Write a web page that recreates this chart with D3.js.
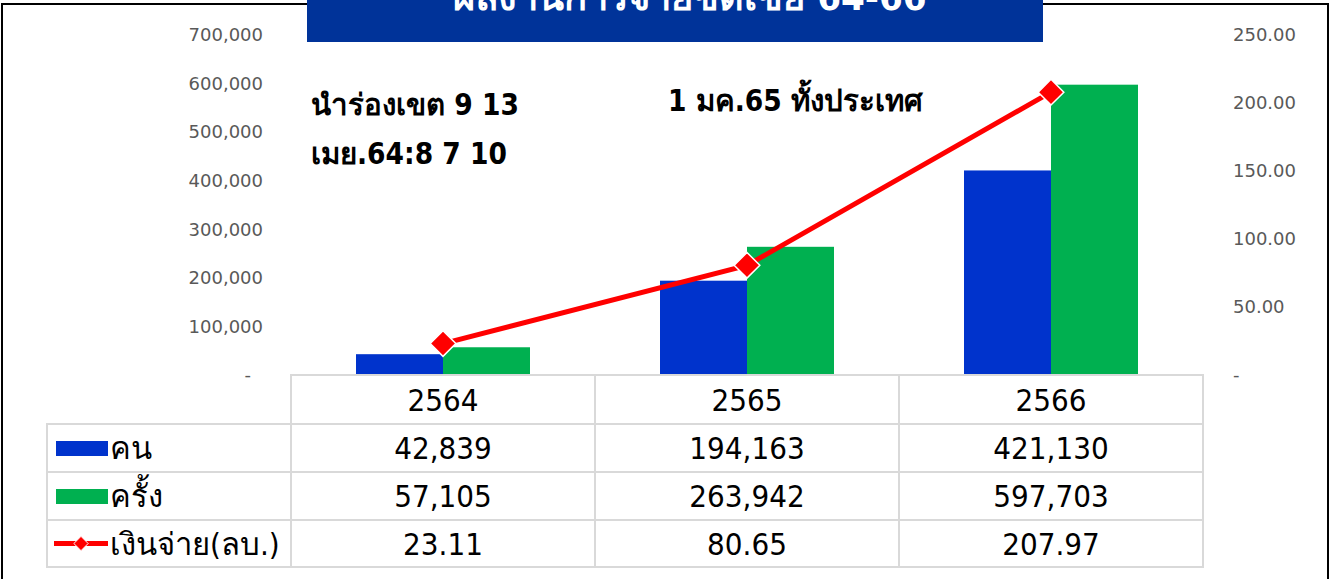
<!DOCTYPE html>
<html>
<head>
<meta charset="utf-8">
<script src="https://cdn.jsdelivr.net/npm/d3@7"></script>
<style>
  body { margin: 0; background: #fff; }
  svg { display: block; }
</style>
</head>
<body>
<svg id="chart" width="1333" height="579"></svg>
<script>
// data
const years = ["2564", "2565", "2566"];
const persons = [42839, 194163, 421130];      // คน
const visits = [57105, 263942, 597703];       // ครั้ง
const payout = [23.11, 80.65, 207.97];        // เงินจ่าย(ลบ.)
const leftTicks = [0, 100000, 200000, 300000, 400000, 500000, 600000, 700000];
const rightTicks = [0, 50, 100, 150, 200, 250];
const rowNames = ["คน", "ครั้ง", "เงินจ่าย(ลบ.)"];

const BLUE = "#0033cc", GREEN = "#00b050", RED = "#ff0000";
const tableFont = "'Liberation Sans Narrow', 'DejaVu Sans Condensed', 'Noto Sans', sans-serif";
const axisFont = "'DejaVu Sans', Tahoma, sans-serif";

const svg = d3.select("#chart");

// frame
svg.append("rect").attr("x", 2).attr("y", 4).attr("width", 1326).attr("height", 600)
  .attr("fill", "none").attr("stroke", "#000").attr("stroke-width", 2);

const x = d3.scaleBand().domain(years).range([291, 1203]).padding(0);
const yL = d3.scaleLinear().domain([0, 700000]).range([375, 35]);
const yR = d3.scaleLinear().domain([0, 250]).range([375, 35]);
const barW = 87;

// axes (no lines, labels only)
const fmtL = d => d === 0 ? "-" : d3.format(",")(d);
const fmtR = d => d === 0 ? "-" : d3.format(".2f")(d);

const axL = svg.append("g").attr("transform", "translate(269,0)")
  .call(d3.axisLeft(yL).tickValues(leftTicks).tickFormat(fmtL).tickSize(0).tickPadding(6));
const axR = svg.append("g").attr("transform", "translate(1227,0)")
  .call(d3.axisRight(yR).tickValues(rightTicks).tickFormat(fmtR).tickSize(0).tickPadding(6));
[axL, axR].forEach(a => {
  a.select(".domain").remove();
  a.selectAll("text").attr("fill", "#595959").style("font-family", axisFont).style("font-size", "18px");
});
axL.selectAll(".tick text").filter(d => d === 0).attr("dx", -12);

// bars
const g = svg.append("g");
g.selectAll("rect.p").data(years).enter().append("rect")
  .attr("x", d => x(d) + x.bandwidth() / 2 - barW)
  .attr("y", (d, i) => yL(persons[i]))
  .attr("width", barW)
  .attr("height", (d, i) => yL(0) - yL(persons[i]))
  .attr("fill", BLUE);
g.selectAll("rect.v").data(years).enter().append("rect")
  .attr("x", d => x(d) + x.bandwidth() / 2)
  .attr("y", (d, i) => yL(visits[i]))
  .attr("width", barW)
  .attr("height", (d, i) => yL(0) - yL(visits[i]))
  .attr("fill", GREEN);

// line
const pts = years.map((d, i) => [x(d) + x.bandwidth() / 2, yR(payout[i])]);
g.append("path").attr("d", d3.line()(pts))
  .attr("fill", "none").attr("stroke", RED).attr("stroke-width", 5);
g.selectAll("path.mk").data(pts).enter().append("path")
  .attr("d", d3.symbol(d3.symbolDiamond2, 420))
  .attr("transform", d => `translate(${d[0]},${d[1]})`)
  .attr("fill", RED).attr("stroke", "#fff").attr("stroke-width", 1.5);

// annotations
const note = svg.append("g").style("font-family", tableFont).style("font-weight", "bold")
  .style("font-size", "29.5px").attr("fill", "#000");
note.append("text").attr("x", 311).attr("y", 115).text("นำร่องเขต 9 13");
note.append("text").attr("x", 311).attr("y", 164).text("เมย.64:8 7 10");
note.append("text").attr("x", 668).attr("y", 111).text("1 มค.65 ทั้งประเทศ");

// title banner (clipped at the top edge)
svg.append("rect").attr("x", 307).attr("y", 0).attr("width", 736).attr("height", 42).attr("fill", "#003399");
svg.append("text").attr("x", 690).attr("y", 10).attr("text-anchor", "middle")
  .attr("fill", "#fff").style("font-family", tableFont).style("font-weight", "bold").style("font-size", "38px")
  .text("ผลงานการจ่ายชดเชย 64-66");

// data table
const rowY = [375, 424, 472, 520, 567];
const tbl = svg.append("g").attr("stroke", "#d9d9d9").attr("stroke-width", 2).attr("fill", "none");
// header row
tbl.append("path").attr("d", `M291,${rowY[1]}V${rowY[0]}H1203V${rowY[1]}`);
tbl.append("rect").attr("x", 47).attr("y", rowY[1]).attr("width", 1203 - 47).attr("height", rowY[4] - rowY[1]);
[rowY[2], rowY[3]].forEach(y => tbl.append("line").attr("x1", 47).attr("x2", 1203).attr("y1", y).attr("y2", y));
years.forEach(d => tbl.append("line").attr("x1", x(d)).attr("x2", x(d)).attr("y1", rowY[0]).attr("y2", rowY[4]));

const txt = svg.append("g").style("font-family", tableFont).style("font-size", "31px").attr("fill", "#000");
const rows = [years, persons.map(d3.format(",")), visits.map(d3.format(",")), payout.map(d3.format(".2f"))];
rows.forEach((r, ri) => {
  r.forEach((v, ci) => {
    txt.append("text")
      .attr("x", x(years[ci]) + x.bandwidth() / 2)
      .attr("y", (rowY[ri] + rowY[ri + 1]) / 2 + 11)
      .attr("text-anchor", "middle").text(v);
  });
});
rowNames.forEach((n, i) => {
  const cy = (rowY[i + 1] + rowY[i + 2]) / 2;
  txt.append("text").attr("x", 110).attr("y", cy + 11).text(n);
});
// legend keys
svg.append("rect").attr("x", 56).attr("y", (rowY[1] + rowY[2]) / 2 - 7).attr("width", 52).attr("height", 15).attr("fill", BLUE);
svg.append("rect").attr("x", 56).attr("y", (rowY[2] + rowY[3]) / 2 - 7).attr("width", 52).attr("height", 15).attr("fill", GREEN);
const ly = (rowY[3] + rowY[4]) / 2;
svg.append("line").attr("x1", 54).attr("x2", 108).attr("y1", ly).attr("y2", ly).attr("stroke", RED).attr("stroke-width", 5);
svg.append("path").attr("d", d3.symbol(d3.symbolDiamond2, 130)).attr("transform", `translate(81,${ly})`)
  .attr("fill", RED).attr("stroke", "#fff").attr("stroke-width", 1);
</script>
</body>
</html>
